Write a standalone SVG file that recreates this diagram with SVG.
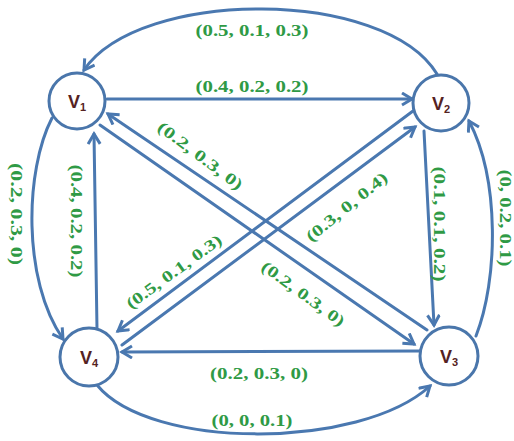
<svg xmlns="http://www.w3.org/2000/svg" width="514" height="441" viewBox="0 0 514 441">
<style>
.e{fill:none;stroke:#4a78b0;stroke-width:3;stroke-linecap:round;marker-end:url(#ah)}
.n{fill:#fff;stroke:#4a76ab;stroke-width:3}
.t{font-family:"Liberation Sans",Arial,sans-serif;font-weight:bold;font-size:18px;fill:#552222;text-anchor:middle}
.s{font-size:11px}
.l{font-family:"Liberation Serif","Times New Roman",serif;font-weight:bold;font-size:16px;fill:#2f9a45;text-anchor:middle}
</style>
<defs>
<marker id="ah" markerUnits="userSpaceOnUse" markerWidth="16" markerHeight="16" refX="12" refY="7" orient="auto">
<path d="M2,1 L12,7 L2,13" fill="none" stroke="#4a78b0" stroke-width="3" stroke-linejoin="miter"/>
</marker>
</defs>
<rect width="514" height="441" fill="#fff"/>
<g id="connectors">
<path class="e" d="M437,74 C385,-12 140,-12 84,70"/>
<path class="e" d="M107,99 L412,99"/>
<path class="e" d="M52,118 C25,170 22,280 63,339"/>
<path class="e" d="M97,329 L94,134"/>
<path class="e" d="M424,131 L434,325"/>
<path class="e" d="M476,336 C498,280 500,180 469,121"/>
<path class="e" d="M420,351 L122,352"/>
<path class="e" d="M97,385 C150,450 360,450 430,386"/>
<path class="e" d="M427,330 L108,114"/>
<path class="e" d="M100,125 L414,344"/>
<path class="e" d="M413,111 L118,331"/>
<path class="e" d="M122,345 L415,127"/>
</g>
<g id="V1"><circle class="n" cx="77" cy="101" r="28"/><text class="t" x="77" y="108">V<tspan class="s" dy="3">1</tspan></text></g>
<g id="V2"><circle class="n" cx="441" cy="103" r="28"/><text class="t" x="441" y="110">V<tspan class="s" dy="3">2</tspan></text></g>
<g id="V3"><circle class="n" cx="449" cy="356" r="29"/><text class="t" x="449" y="363">V<tspan class="s" dy="3">3</tspan></text></g>
<g id="V4"><circle class="n" cx="89" cy="357" r="29"/><text class="t" x="89" y="364">V<tspan class="s" dy="3">4</tspan></text></g>
<g id="labels">
<text class="l" x="252" y="36" textLength="113" lengthAdjust="spacingAndGlyphs">(0.5, 0.1, 0.3)</text>
<text class="l" x="252" y="92" textLength="113" lengthAdjust="spacingAndGlyphs">(0.4, 0.2, 0.2)</text>
<text class="l" x="259" y="379" textLength="98" lengthAdjust="spacingAndGlyphs">(0.2, 0.3, 0)</text>
<text class="l" x="252" y="426" textLength="81" lengthAdjust="spacingAndGlyphs">(0, 0, 0.1)</text>
<text class="l" transform="translate(11,214) rotate(90)" textLength="102" lengthAdjust="spacingAndGlyphs">(0.2, 0.3, 0)</text>
<text class="l" transform="translate(71,221) rotate(90)" textLength="113" lengthAdjust="spacingAndGlyphs">(0.4, 0.2, 0.2)</text>
<text class="l" transform="translate(434,224) rotate(90)" textLength="115" lengthAdjust="spacingAndGlyphs">(0.1, 0.1, 0.2)</text>
<text class="l" transform="translate(500,218) rotate(90)" textLength="97" lengthAdjust="spacingAndGlyphs">(0, 0.2, 0.1)</text>
<text class="l" transform="translate(197,160) rotate(37)" textLength="102" lengthAdjust="spacingAndGlyphs">(0.2, 0.3, 0)</text>
<text class="l" transform="translate(177,276) rotate(-36)" textLength="114" lengthAdjust="spacingAndGlyphs">(0.5, 0.1, 0.3)</text>
<text class="l" transform="translate(350,211) rotate(-39)" textLength="100" lengthAdjust="spacingAndGlyphs">(0.3, 0, 0.4)</text>
<text class="l" transform="translate(300,298) rotate(36)" textLength="99" lengthAdjust="spacingAndGlyphs">(0.2, 0.3, 0)</text>
</g>
</svg>
